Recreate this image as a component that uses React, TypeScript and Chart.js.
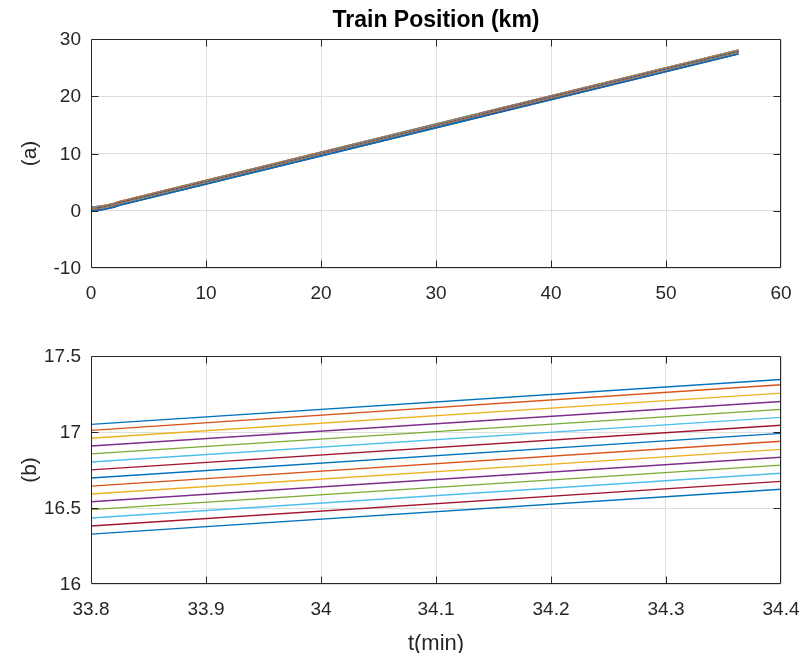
import React, { useEffect, useRef } from 'react';
import { Chart, registerables } from 'chart.js';

Chart.register(...registerables);

// ---- data ----
const times = [0, 0.5, 1, 1.5, 2, 2.5, 33.8, 34.4, 56.3];

// position (km) of each train at the times above
const trainPositions: number[][] = [
  [0.72, 0.76, 0.87, 1.08, 1.32, 1.65, 17.05, 17.345, 28.08],
  [0.68, 0.72, 0.83, 1.04, 1.28, 1.61, 17.011, 17.311, 28.04],
  [0.63, 0.67, 0.78, 0.99, 1.23, 1.56, 16.959, 17.256, 27.99],
  [0.58, 0.62, 0.73, 0.94, 1.18, 1.51, 16.908, 17.201, 27.93],
  [0.53, 0.57, 0.68, 0.89, 1.13, 1.46, 16.856, 17.149, 27.88],
  [0.48, 0.52, 0.63, 0.84, 1.08, 1.41, 16.803, 17.096, 27.83],
  [0.42, 0.46, 0.57, 0.78, 1.02, 1.35, 16.751, 17.044, 27.77],
  [0.37, 0.41, 0.52, 0.73, 0.97, 1.3, 16.697, 16.991, 27.72],
  [0.32, 0.36, 0.47, 0.68, 0.92, 1.25, 16.644, 16.939, 27.67],
  [0.26, 0.3, 0.41, 0.62, 0.86, 1.19, 16.592, 16.886, 27.62],
  [0.21, 0.25, 0.36, 0.57, 0.81, 1.14, 16.541, 16.834, 27.56],
  [0.16, 0.2, 0.31, 0.52, 0.76, 1.09, 16.489, 16.782, 27.51],
  [0.11, 0.15, 0.26, 0.47, 0.71, 1.04, 16.434, 16.729, 27.46],
  [0.05, 0.09, 0.2, 0.41, 0.65, 0.98, 16.382, 16.675, 27.41],
  [0, 0.04, 0.15, 0.36, 0.6, 0.93, 16.328, 16.623, 27.35],
];

const lineColors = ['#0072BD', '#D95319', '#EDB120', '#7E2F8E', '#77AC30', '#4DBEEE', '#A2142F'];

const topXTicks = [0, 10, 20, 30, 40, 50, 60];
const topXLabels = ['0', '10', '20', '30', '40', '50', '60'];
const topYTicks = [-10, 0, 10, 20, 30];
const topYLabels = ['-10', '0', '10', '20', '30'];

const zoomXTicks = [33.8, 33.9, 34, 34.1, 34.2, 34.3, 34.4];
const zoomXLabels = ['33.8', '33.9', '34', '34.1', '34.2', '34.3', '34.4'];
const zoomYTicks = [16, 16.5, 17, 17.5];
const zoomYLabels = ['16', '16.5', '17', '17.5'];

const chartTitle = 'Train Position (km)';
const topYTitle = '(a)';
const bottomYTitle = '(b)';
const xTitle = 't(min)';

// ---- styling ----
const FONT = "'Liberation Sans', Arial, Helvetica, sans-serif";
const AXIS_COLOR = '#262626';
const GRID_COLOR = '#dfdfdf';
const TICK_LEN = 7;

function makeDatasets() {
  return trainPositions.map((row, i) => ({
    label: `Train ${i + 1}`,
    data: times.map((t, j) => ({ x: t, y: row[j] })),
    borderColor: lineColors[i % lineColors.length],
    backgroundColor: lineColors[i % lineColors.length],
    borderWidth: 1.4,
    pointRadius: 0,
    pointHoverRadius: 0,
    fill: false,
    tension: 0,
    order: trainPositions.length - i,
  }));
}

const boxPlugin = {
  id: 'matlabBox',
  afterDatasetsDraw(chart: any) {
    const { ctx, chartArea } = chart;
    const { left, right, top, bottom } = chartArea;
    const xs = chart.scales.x;
    const ys = chart.scales.y;
    ctx.save();
    ctx.strokeStyle = AXIS_COLOR;
    ctx.lineWidth = 1;
    const L = Math.round(left) + 0.5;
    const R = Math.round(right) - 0.5;
    const T = Math.round(top) + 0.5;
    const B = Math.round(bottom) - 0.5;
    ctx.beginPath();
    ctx.rect(L, T, R - L, B - T);
    ctx.stroke();
    ctx.beginPath();
    xs.ticks.forEach((t: any) => {
      const px = Math.round(xs.getPixelForValue(t.value)) + 0.5;
      if (px <= L + 1 || px >= R - 1) return;
      ctx.moveTo(px, B);
      ctx.lineTo(px, B - TICK_LEN);
      ctx.moveTo(px, T);
      ctx.lineTo(px, T + TICK_LEN);
    });
    ys.ticks.forEach((t: any) => {
      const py = Math.round(ys.getPixelForValue(t.value)) + 0.5;
      if (py <= T + 1 || py >= B - 1) return;
      ctx.moveTo(L, py);
      ctx.lineTo(L + TICK_LEN, py);
      ctx.moveTo(R, py);
      ctx.lineTo(R - TICK_LEN, py);
    });
    ctx.stroke();
    ctx.restore();
  },
};

function xAxis(min: number, max: number, ticks: number[], labels: string[], height: number, title?: string) {
  return {
    type: 'linear' as const,
    position: 'bottom' as const,
    min,
    max,
    afterBuildTicks: (s: any) => {
      s.ticks = ticks.map((v) => ({ value: v }));
    },
    afterFit: (s: any) => {
      s.height = height;
      s.paddingLeft = 0;
      s.paddingRight = 0;
      s.paddingTop = 0;
      s.paddingBottom = 0;
    },
    grid: { color: GRID_COLOR, lineWidth: 1, drawTicks: false },
    border: { display: false },
    ticks: {
      autoSkip: false,
      maxRotation: 0,
      padding: 14,
      color: AXIS_COLOR,
      font: { family: FONT, size: 19 },
      callback: (_v: any, i: number) => labels[i],
    },
    title: title
      ? {
          display: true,
          text: title,
          color: AXIS_COLOR,
          font: { family: FONT, size: 22, lineHeight: 0.8 },
          padding: { top: 0, bottom: 0 },
        }
      : { display: false },
  };
}

function yAxis(min: number, max: number, ticks: number[], labels: string[], title: string) {
  return {
    type: 'linear' as const,
    position: 'left' as const,
    min,
    max,
    afterBuildTicks: (s: any) => {
      s.ticks = ticks.map((v) => ({ value: v }));
    },
    afterFit: (s: any) => {
      s.width = 91;
      s.paddingLeft = 0;
      s.paddingRight = 0;
      s.paddingTop = 0;
      s.paddingBottom = 0;
    },
    grid: { color: GRID_COLOR, lineWidth: 1, drawTicks: false },
    border: { display: false },
    ticks: {
      autoSkip: false,
      padding: 10,
      labelOffset: 1,
      color: AXIS_COLOR,
      font: { family: FONT, size: 19 },
      callback: (_v: any, i: number) => labels[i],
    },
    title: {
      display: true,
      text: title,
      color: AXIS_COLOR,
      font: { family: FONT, size: 21, lineHeight: 1.2 },
      padding: { top: 17.4, bottom: 0 },
    },
  };
}

function topConfig(): any {
  return {
    type: 'line',
    data: { datasets: makeDatasets() },
    options: {
      responsive: false,
      animation: false,
      events: [],
      layout: { padding: { left: 0, right: 19, top: 0, bottom: 0 } },
      plugins: {
        legend: { display: false },
        tooltip: { enabled: false },
        title: {
          display: true,
          text: chartTitle,
          fullSize: false,
          color: '#000000',
          font: { family: FONT, size: 23, weight: 'bold', lineHeight: 1.2 },
          padding: { top: 7, bottom: 4.4 },
        },
      },
      scales: {
        x: xAxis(0, 60, topXTicks, topXLabels, 52),
        y: yAxis(-10, 30, topYTicks, topYLabels, topYTitle),
      },
    },
    plugins: [boxPlugin],
  };
}

function bottomConfig(): any {
  return {
    type: 'line',
    data: { datasets: makeDatasets() },
    options: {
      responsive: false,
      animation: false,
      events: [],
      layout: { padding: { left: 0, right: 19, top: 36, bottom: 0 } },
      plugins: {
        legend: { display: false },
        tooltip: { enabled: false },
        title: { display: false },
      },
      scales: {
        x: xAxis(33.8, 34.4, zoomXTicks, zoomXLabels, 69, xTitle),
        y: yAxis(16, 17.5, zoomYTicks, zoomYLabels, bottomYTitle),
      },
    },
    plugins: [boxPlugin],
  };
}

export default function App() {
  const topRef = useRef<HTMLCanvasElement>(null);
  const bottomRef = useRef<HTMLCanvasElement>(null);

  useEffect(() => {
    const c1 = new Chart(topRef.current as HTMLCanvasElement, topConfig());
    const c2 = new Chart(bottomRef.current as HTMLCanvasElement, bottomConfig());
    return () => {
      c1.destroy();
      c2.destroy();
    };
  }, []);

  return (
    <div
      style={{
        position: 'absolute',
        left: 0,
        top: 0,
        width: 800,
        height: 653,
        overflow: 'hidden',
        background: '#ffffff',
      }}
    >
      <canvas
        ref={topRef}
        width={800}
        height={320}
        style={{ position: 'absolute', left: 0, top: 0, width: 800, height: 320 }}
      />
      <canvas
        ref={bottomRef}
        width={800}
        height={333}
        style={{ position: 'absolute', left: 0, top: 320, width: 800, height: 333 }}
      />
    </div>
  );
}
